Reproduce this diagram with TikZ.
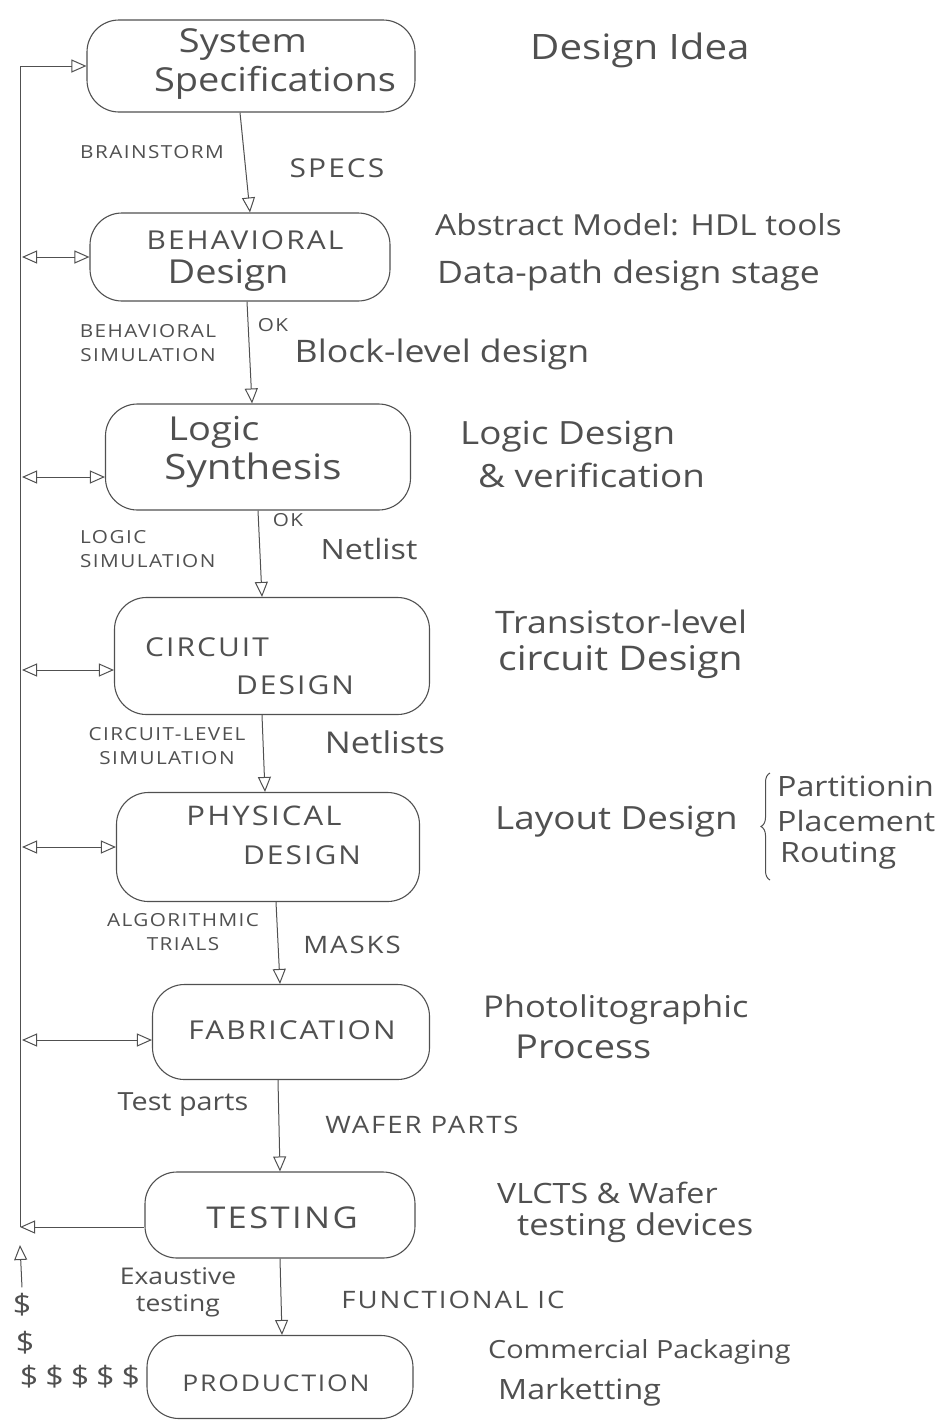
\documentclass[tikz,border=0pt]{standalone}
\usepackage{fontspec}
\setmainfont{Open Sans}[FakeStretch=1.15]
\newfontfamily\capsfont{Open Sans}[LetterSpace=8, FakeStretch=1.15]
\usetikzlibrary{arrows.meta,decorations.pathreplacing,calc}
\definecolor{pencil}{RGB}{80,80,80}
\newcommand\fsz[2]{\fontsize{#1}{#2}\selectfont}
\tikzset{
  stage/.style={draw=pencil, line width=1.1pt, rounded corners=32pt, inner sep=0pt},
  boxtxt/.style={text=pencil, inner sep=0pt, font=\fsz{33}{38}},
  boxcap/.style={text=pencil, inner sep=0pt, font=\capsfont\fsz{26}{30}},
  lbl/.style={text=pencil, inner sep=0pt, font=\capsfont\fsz{18}{24}, align=center},
  lblb/.style={text=pencil, inner sep=0pt, font=\capsfont\fsz{24}{28}},
  note/.style={text=pencil, inner sep=0pt, font=\fsz{25}{30}},
  rnote/.style={text=pencil, inner sep=0pt, font=\fsz{31}{36}, anchor=west},
  tip/.tip={Triangle[open, length=15pt, width=13pt]},
  arr/.style={draw=pencil, line width=1pt, -tip},
  dbl/.style={draw=pencil, line width=1pt, tip-tip},
  line/.style={draw=pencil, line width=1pt},
}
\begin{document}
\begin{tikzpicture}[x=1pt, y=-1pt]
\useasboundingbox[fill=white] (0,0) rectangle (939,1425);

% ---- stages ----
\node[stage, minimum width=328pt, minimum height=92pt] (spec) at (251,66) {};
\node[stage, minimum width=300pt, minimum height=88pt] (beh) at (240,257) {};
\node[stage, minimum width=305pt, minimum height=106pt] (logic) at (258,457) {};
\node[stage, minimum width=315pt, minimum height=117pt] (circ) at (272,656) {};
\node[stage, minimum width=303pt, minimum height=109pt] (phys) at (268,847) {};
\node[stage, minimum width=277pt, minimum height=95pt] (fab) at (291,1032) {};
\node[stage, minimum width=270pt, minimum height=86pt] (test) at (280,1215) {};
\node[stage, minimum width=266pt, minimum height=83pt] (prod) at (280,1377) {};

% ---- stage texts ----
\node[boxtxt] (specA) at (243,45) {System};
\node[boxtxt] (specB) at (275,83) {Specifications};
\node[boxcap] (behA) at (245,240) {BEHAVIORAL};
\node[boxtxt] (behB) at (228,275) {Design};
\node[boxtxt] (logA) at (214,432) {Logic};
\node[boxtxt, font=\fsz{35}{40}] (logB) at (253,470) {Synthesis};
\node[boxcap] (circA) at (207,647) {CIRCUIT};
\node[boxcap] (circB) at (295,685) {DESIGN};
\node[boxcap, font=\capsfont\fsz{27}{30}] (physA) at (264,816) {PHYSICAL};
\node[boxcap] (physB) at (302,855) {DESIGN};
\node[boxcap] (fabA) at (292,1030) {FABRICATION};
\node[boxcap, font=\capsfont\fsz{30}{34}] (testA) at (282,1218) {TESTING};
\node[boxcap, font=\capsfont\fsz{23}{28}] (prodA) at (276,1383) {PRODUCTION};

% ---- flow arrows ----
\draw[arr] ([xshift=-11pt]spec.south) -- ([xshift=10pt]beh.north);
\draw[arr] ([xshift=7pt]beh.south) -- ([xshift=-6pt]logic.north);
\draw[arr] ([xshift=0pt]logic.south) -- ([xshift=-10pt]circ.north);
\draw[arr] ([xshift=-10pt]circ.south) -- ([xshift=-3pt]phys.north);
\draw[arr] ([xshift=8pt]phys.south) -- ([xshift=-11pt]fab.north);
\draw[arr] ([xshift=-13pt]fab.south) -- ([xshift=0pt]test.north);
\draw[arr] ([xshift=0pt]test.south) -- ([xshift=2pt]prod.north);

% ---- feedback line ----
\coordinate (fbB) at (20,1227);
\coordinate (fbL) at (22,0);
\draw[arr] ([yshift=-12pt]test.west) -- (fbB);
\draw[line] (fbB) -- (fbB |- spec.west);
\draw[arr] (fbB |- spec.west) -- (spec.west);
\draw[dbl] (beh.west -| fbL) -- (beh.west);
\draw[dbl] ([yshift=-20pt]logic.west -| fbL) -- ([yshift=-20pt]logic.west);
\draw[dbl] ([yshift=-14pt]circ.west -| fbL) -- ([yshift=-14pt]circ.west);
\draw[dbl] (phys.west -| fbL) -- (phys.west);
\draw[dbl] ([yshift=-8pt]fab.west -| fbL) -- ([yshift=-8pt]fab.west);

% ---- left labels ----
\node[lbl] (brain) at (152,152) {BRAINSTORM};
\node[lblb, font=\capsfont\fsz{26}{30}] (specs) at (337,168) {SPECS};
\node[lbl] (behsim) at (148,343) {BEHAVIORAL\\SIMULATION};
\node[lbl] (ok1) at (273,325) {OK};
\node[note, font=\fsz{31}{36}] (block) at (442,354) {Block-level design};
\node[lbl, align=left, anchor=west] (logsim) at (80,549) {LOGIC\\SIMULATION};
\node[lbl] (ok2) at (288,520) {OK};
\node[note, font=\fsz{28}{32}] (netl) at (369,549) {Netlist};
\node[lbl] (circsim) at (167,746) {CIRCUIT-LEVEL\\SIMULATION};
\node[note, font=\fsz{30}{34}] (netls) at (385,742) {Netlists};
\node[lbl] (algo) at (183,932) {ALGORITHMIC\\TRIALS};
\node[lblb] (masks) at (352,945) {MASKS};
\node[note] (tparts) at (183,1105) {Test parts};
\node[lblb] (wafer) at (422,1125) {WAFER PARTS};
\node[note, align=center, font=\fsz{23}{27}] (exh) at (178,1292) {Exaustive\\testing};
\node[lblb] (func) at (453,1300) {FUNCTIONAL IC};

% ---- dollars ----
\node[note, font=\fsz{28}{32}] (d1) at (22,1305) {\$};
\node[note, font=\fsz{28}{32}] (d2) at (25,1343) {\$};
\node[note, font=\fsz{28}{32}] (d3) at (80,1377) {\$\hspace{7pt}\$\hspace{7pt}\$\hspace{7pt}\$\hspace{7pt}\$};
\coordinate (upTip) at (20,1245);
\draw[arr] ([yshift=6pt]d1.north) -- (upTip);

% ---- right annotations ----
\node[rnote, font=\fsz{35}{40}] (idea) at (530,50) {Design Idea};
\node[rnote, font=\fsz{29}{34}] (abs) at (435,225) {Abstract Model: HDL tools};
\node[rnote] (dp) at (437,275) {Data-path design stage};
\node[rnote, font=\fsz{32}{36}] (ld) at (460,437) {Logic Design};
\node[rnote, font=\fsz{32}{36}] (ver) at (478,475) {\& verification};
\node[rnote] (tl) at (495,622) {Transistor-level};
\node[rnote, font=\fsz{34}{38}] (cd) at (498,662) {circuit Design};
\node[rnote, font=\fsz{32}{36}] (lay) at (495,822) {Layout Design};
\node[rnote, font=\fsz{28}{32}] (part) at (777,786) {Partitionin};
\node[rnote, font=\fsz{28}{32}] (plac) at (777,821) {Placement};
\node[rnote, font=\fsz{28}{32}] (rout) at (780,856) {Routing};
\draw[line, decorate, decoration={brace, amplitude=9pt}] (770,880) -- (770,773);
\node[rnote, font=\fsz{30}{34}] (photo) at (483,1010) {Photolitographic};
\node[rnote, font=\fsz{33}{38}] (proc) at (515,1047) {Process};
\node[rnote, font=\fsz{28}{32}] (vlcts) at (497,1193) {VLCTS \& Wafer};
\node[rnote, font=\fsz{30}{34}] (tdev) at (517,1228) {testing devices};
\node[rnote, font=\fsz{25}{30}] (comm) at (488,1352) {Commercial Packaging};
\node[rnote, font=\fsz{28}{32}] (mark) at (498,1392) {Marketting};
\end{tikzpicture}
\end{document}
